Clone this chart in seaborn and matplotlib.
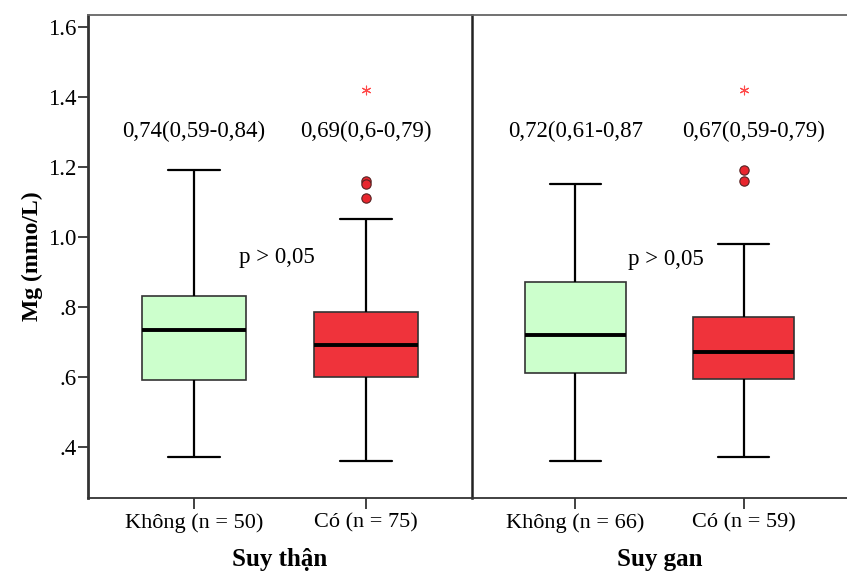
import numpy as np
import pandas as pd
import matplotlib
matplotlib.use("Agg")
import matplotlib.pyplot as plt
import seaborn as sns

# ---- data ----
panel_names = ["Suy thận", "Suy gan"]
tick_labels_than = ["Không (n = 50)", "Có (n = 75)"]
tick_labels_gan = ["Không (n = 66)", "Có (n = 59)"]
# five-number summaries: lower whisker, Q1, median, Q3, upper whisker
than_khong = [0.37, 0.59, 0.735, 0.83, 1.19]
than_co = [0.36, 0.60, 0.69, 0.785, 1.05]
gan_khong = [0.36, 0.61, 0.72, 0.87, 1.15]
gan_co = [0.37, 0.595, 0.67, 0.77, 0.98]
than_co_outliers = [1.16, 1.15, 1.11]
gan_co_outliers = [1.19, 1.16]
than_co_extreme = [1.42]
gan_co_extreme = [1.42]
ann_than = ["0,74(0,59-0,84)", "0,69(0,6-0,79)"]
ann_gan = ["0,72(0,61-0,87", "0,67(0,59-0,79)"]
p_text = "p > 0,05"

GREEN = "#ccffcc"
RED = "#ef333b"
EDGE = "#333333"

sns.set_theme(style="white")
plt.rcParams["font.family"] = ["Liberation Serif", "DejaVu Serif"]
plt.rcParams["text.color"] = "black"
plt.rcParams["xtick.labelcolor"] = "black"
plt.rcParams["ytick.labelcolor"] = "black"
plt.rcParams["axes.labelcolor"] = "black"

fig = plt.figure(figsize=(8.47, 5.72), dpi=100)
ax1 = fig.add_axes([88 / 847, 74 / 572, 384 / 847, 483 / 572])
ax2 = fig.add_axes([472 / 847, 74 / 572, 375 / 847, 483 / 572], sharey=ax1)
ax2.set_facecolor("none")

panels = [
    (ax1, tick_labels_than, [than_khong, than_co], than_co_outliers, than_co_extreme,
     ann_than, (0.48, 0.94)),
    (ax2, tick_labels_gan, [gan_khong, gan_co], gan_co_outliers, gan_co_extreme,
     ann_gan, (0.54, 0.934)),
]

for i, (ax, labels, summaries, outl, extr, ann, ppos) in enumerate(panels):
    rows = []
    for lab, s in zip(labels, summaries):
        for v in s:
            rows.append({"label": lab, "value": v})
    df = pd.DataFrame(rows)
    sns.boxplot(data=df, x="label", y="value", hue="label", order=labels,
                hue_order=labels, palette=[GREEN, RED], saturation=1,
                whis=(0, 100), width=0.6, linecolor=EDGE, linewidth=1.2,
                fliersize=0, legend=False, ax=ax,
                medianprops=dict(color="black", linewidth=2.8),
                whiskerprops=dict(color="black", linewidth=1.6),
                capprops=dict(color="black", linewidth=1.6))
    ax.scatter([1] * len(outl), outl, s=45, color="#e8262e",
               edgecolor="#552222", linewidth=0.8, zorder=5)
    ax.scatter([1] * len(extr), extr, s=40, marker=(6, 2, 0),
               color="#ff4a4a", linewidth=0.8, zorder=5)
    for xpos, t in enumerate(ann):
        ax.text(xpos + (0.06 if (i == 1 and xpos == 1) else 0), 1.30, t,
                ha="center", va="center", fontsize=16.5, color="black")
    ax.text(ppos[0], ppos[1], p_text, ha="center", va="center",
            fontsize=16.5, color="black")
    ax.set_xlim(-0.615, 1.615)
    ax.set_ylim(0.254, 1.634)
    ax.set_xlabel(panel_names[i], fontsize=18, fontweight="bold", labelpad=11)
    ax.set_ylabel("")
    ax.set_xticks([0, 1])
    ax.set_xticklabels(labels, fontsize=16)
    ax.tick_params(axis="x", direction="out", length=8, width=1.3,
                   color=EDGE, pad=3, bottom=True)
    for sp in ax.spines.values():
        sp.set_color(EDGE)
        sp.set_linewidth(1.3)
    ax.spines["top"].set_color("#666666")

ax1.set_yticks([0.4, 0.6, 0.8, 1.0, 1.2, 1.4, 1.6])
ax1.set_yticklabels([".4", ".6", ".8", "1.0", "1.2", "1.4", "1.6"], fontsize=16.5)
ax1.tick_params(axis="y", direction="out", length=7, width=1.3, color=EDGE,
                pad=1, left=True)
ax1.set_ylabel("Mg (mmo/L)", fontsize=17, fontweight="bold", labelpad=4)
ax1.spines["left"].set_linewidth(2)
ax1.spines["right"].set_linewidth(1.8)
ax1.spines["right"].set_color("#222222")
ax2.spines["left"].set_visible(False)
ax2.spines["right"].set_visible(False)
ax2.tick_params(axis="y", left=False, labelleft=False)

fig.savefig("out.png", dpi=100)
